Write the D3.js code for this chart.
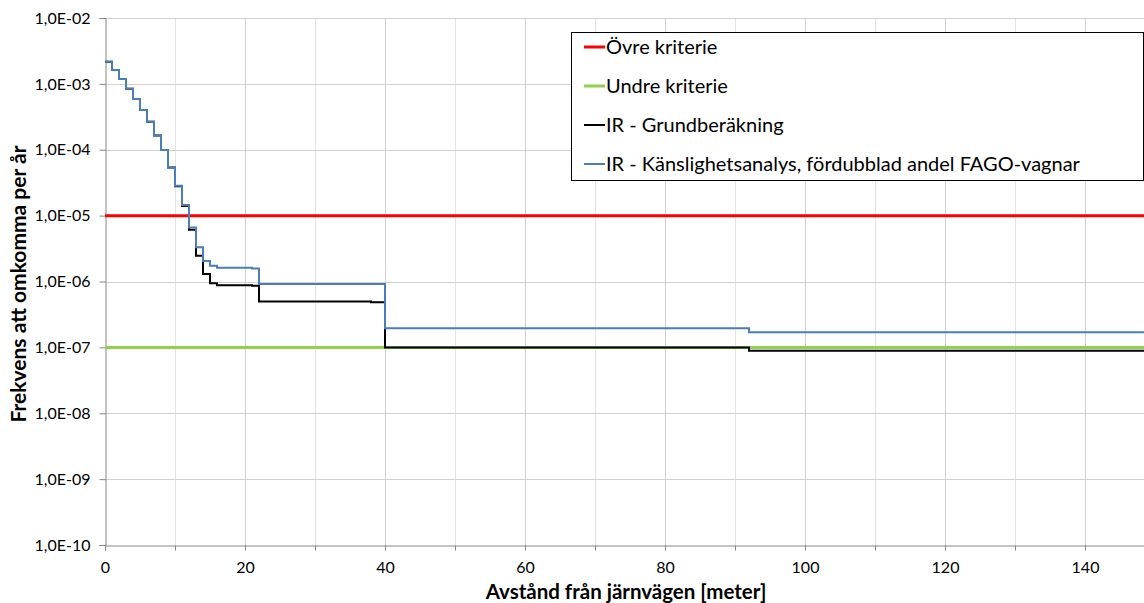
<!DOCTYPE html>
<html><head><meta charset="utf-8">
<script src="https://cdn.jsdelivr.net/npm/d3@7/dist/d3.min.js"></script>
<style>body{margin:0;background:#fff}svg{display:block}</style>
</head><body>
<script>
// ---- data ----
const xTicks = [0,10,20,30,40,50,60,70,80,90,100,110,120,130,140,150];
const xTickLabels = ["0","","20","","40","","60","","80","","100","","120","","140",""];
const yTicks = [1e-10,1e-9,1e-8,1e-7,1e-6,1e-5,1e-4,1e-3,1e-2];
const yTickLabels = ["1,0E-10","1,0E-09","1,0E-08","1,0E-07","1,0E-06","1,0E-05","1,0E-04","1,0E-03","1,0E-02"];
const xMax = 150;
const upperCriterion = 1e-5;
const lowerCriterion = 1e-7;
const blueX = [0,1,2,3,4,5,6,7,8,9,10,11,12,13,14,15,16,21,22,40,92];
const blueV = [2.17e-3,1.63e-3,1.19e-3,8.4e-4,5.9e-4,4.0e-4,2.67e-4,1.64e-4,9.9e-5,5.4e-5,2.85e-5,1.45e-5,6.6e-6,3.3e-6,2.05e-6,1.74e-6,1.62e-6,1.58e-6,9.2e-7,1.95e-7,1.7e-7];
const blackX = [0,1,2,3,4,5,6,7,8,9,10,11,12,13,14,15,16,21,22,38,40,92];
const blackV = [2.17e-3,1.63e-3,1.19e-3,8.4e-4,5.9e-4,4.0e-4,2.67e-4,1.64e-4,9.9e-5,5.4e-5,2.8e-5,1.4e-5,6.1e-6,2.45e-6,1.3e-6,9.4e-7,8.8e-7,8.6e-7,4.96e-7,4.85e-7,1.0e-7,8.9e-8];
const legendLabels = ["Övre kriterie","Undre kriterie","IR - Grundberäkning","IR - Känslighetsanalys, fördubblad andel FAGO-vagnar"];
const colors = ["#FF0000","#92D050","#000000","#4A7EBB"];
const widths = [3,3,2,2];

const W = 1144, H = 603;
const svg = d3.select("body").append("svg").attr("width",W).attr("height",H);
const font = "Lato, 'Open Sans', sans-serif";
const x = d3.scaleLinear().domain([0,xMax]).range([105,1155]);
const y = d3.scaleLog().domain([1e-10,1e-2]).range([545,18]);

// grid
const g = svg.append("g");
g.selectAll(".vg").data(xTicks.filter(d=>d>0)).join("line")
  .attr("x1",d=>Math.round(x(d))+0.5).attr("x2",d=>Math.round(x(d))+0.5)
  .attr("y1",18).attr("y2",545)
  .attr("stroke",d=>d%20===0?"#D0D0D0":"#E4E4E4").attr("stroke-width",1);
g.selectAll(".hg").data(yTicks.slice(1)).join("line")
  .attr("x1",105).attr("x2",W)
  .attr("y1",d=>Math.round(y(d))+0.5).attr("y2",d=>Math.round(y(d))+0.5)
  .attr("stroke","#D0D0D0");

// axes
const yAxis = d3.axisLeft(y).tickValues(yTicks).tickFormat((d,i)=>yTickLabels[i]).tickSize(6).tickPadding(9);
const ya = svg.append("g").attr("transform","translate(105.5,0)").call(yAxis);
const xAxis = d3.axisBottom(x).tickValues(xTicks).tickFormat((d,i)=>xTickLabels[i]).tickSize(5).tickPadding(11);
const xa = svg.append("g").attr("transform","translate(0,545.5)").call(xAxis);
[ya,xa].forEach(a=>{
  a.select(".domain").attr("stroke","#868686");
  a.selectAll(".tick line").attr("stroke","#868686");
  a.selectAll("text").attr("font-family",font).attr("font-size",16).attr("fill","#000");
});

// series
const stepLine = d3.line().x(d=>x(d[0])).y(d=>y(d[1])).curve(d3.curveStepAfter);
function pts(xs,vs){const p=xs.map((d,i)=>[d,vs[i]]);p.push([xMax,vs[vs.length-1]]);return p;}
const series = [
  pts([0],[upperCriterion]),
  pts([0],[lowerCriterion]),
  pts(blackX,blackV),
  pts(blueX,blueV)
];
series.forEach((s,i)=>{
  svg.append("path").attr("d",stepLine(s)).attr("fill","none")
    .attr("stroke",colors[i]).attr("stroke-width",widths[i]);
});

// legend
const lg = svg.append("g");
lg.append("rect").attr("x",571.5).attr("y",32.5).attr("width",572).attr("height",148)
  .attr("fill","#fff").attr("stroke","#000").attr("stroke-width",1);
legendLabels.forEach((t,i)=>{
  const yy = 47 + i*39;
  lg.append("line").attr("x1",584).attr("x2",605).attr("y1",yy).attr("y2",yy)
    .attr("stroke",colors[i]).attr("stroke-width",i<2?3:2);
  lg.append("text").attr("x",606).attr("y",yy).attr("dy","0.35em")
    .attr("font-family",font).attr("font-size",20).text(t);
});

// titles
svg.append("text").attr("transform","translate(26,284) rotate(-90)")
  .attr("text-anchor","middle").attr("font-family",font).attr("font-weight","bold")
  .attr("font-size",21).text("Frekvens att omkomma per år");
svg.append("text").attr("x",626).attr("y",599)
  .attr("text-anchor","middle").attr("font-family",font).attr("font-weight","bold")
  .attr("font-size",20.5).text("Avstånd från järnvägen [meter]");
</script>
</body></html>
